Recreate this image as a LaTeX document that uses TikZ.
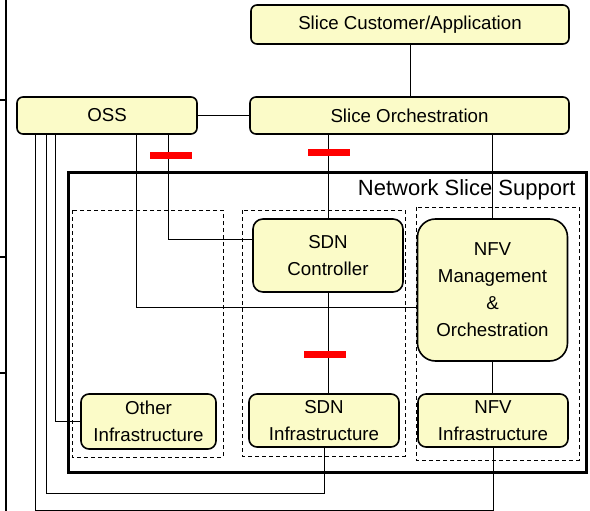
\documentclass[tikz,border=0pt]{standalone}
\usepackage{fontspec}
\setmainfont{Liberation Sans}
\definecolor{boxfill}{RGB}{251,251,200}

\begin{document}
\begin{tikzpicture}[x=1pt,y=-1pt,line width=0.9pt,
  box/.style={draw,line width=1.6pt,rounded corners=6pt,fill=boxfill,inner sep=0pt,
    align=center,font=\fontsize{18.7}{26.5}\selectfont},
  group/.style={draw,line width=0.9pt,dash pattern=on 4pt off 3pt},
  iface/.style={fill=red,inner sep=0pt,minimum width=42pt,minimum height=7pt}]
\useasboundingbox (0,0) rectangle (590,511);
% 左侧边线
\draw[line width=2pt] (6,0) -- (6,511);
\foreach \y in {100,257,373} \draw[line width=2pt] (0,\y) -- (6,\y);
% Network Slice Support 框
\draw[line width=3pt] (68,173) rectangle (586,472);
\node[anchor=north east,inner sep=0pt,font=\fontsize{22}{26}\selectfont] (nss) at (576,179)
  {Network Slice Support};
% 虚线分组
\draw[group] (72,210) rectangle (223,457);
\draw[group] (242,210) rectangle (405,456);
\draw[group] (416,207) rectangle (579,460);
% 上层
\node[box,minimum width=318pt,minimum height=39pt] (cust) at (410,24.5) {Slice Customer/Application};
\node[box,minimum width=319pt,minimum height=37pt] (orch) at (409.5,115.5) {Slice Orchestration};
\node[box,minimum width=180pt,minimum height=37pt] (oss) at (107,115.5) {OSS};
% 控制与编排
\node[box,rounded corners=10pt,minimum width=150pt,minimum height=73pt] (sdnc) at (328,255.5)
  {SDN\\Controller};
\node[box,rounded corners=18pt,minimum width=150pt,minimum height=142pt,
  font=\fontsize{18.7}{27}\selectfont] (mano) at (492.5,290)
  {NFV\\Management\\\&\\Orchestration};
% 基础设施
\node[box,rounded corners=8pt,minimum width=135pt,minimum height=55pt] (other) at (148.5,421.5)
  {Other\\Infrastructure};
\node[box,rounded corners=8pt,minimum width=150pt,minimum height=53pt] (sdni) at (324,420.5)
  {SDN\\Infrastructure};
\node[box,rounded corners=8pt,minimum width=150pt,minimum height=53pt] (nfvi) at (493,420.5)
  {NFV\\Infrastructure};
% 连线
\draw (cust.south) -- (cust.south |- orch.north);
\draw (oss.east) -- (orch.west);
\draw (sdnc.north |- orch.south) -- (sdnc.north);
\draw (mano.north |- orch.south) -- (mano.north);
\draw (sdnc.south) -- (sdnc.south |- sdni.north);
\draw (mano.south) -- (mano.south |- nfvi.north);
% OSS 出线
\coordinate (busA) at (0,493);
\coordinate (busB) at (0,510);
\draw ([xshift=61pt]oss.south) |- ([yshift=16pt]sdnc.west);
\draw ([xshift=29pt]oss.south) |- ([yshift=-17pt]mano.west);
\draw ([xshift=-52pt]oss.south) |- (other.west);
\draw ([xshift=-61pt]oss.south) |- (busA -| sdni.south) -- (sdni.south);
\draw ([xshift=-72pt]oss.south) |- (busB -| nfvi.south) -- (nfvi.south);
% 接口标记
\node[iface] (ifA) at (171,156) {};
\node[iface] (ifB) at (328.5,153) {};
\node[iface] (ifC) at (325,354) {};
\end{tikzpicture}
\end{document}
